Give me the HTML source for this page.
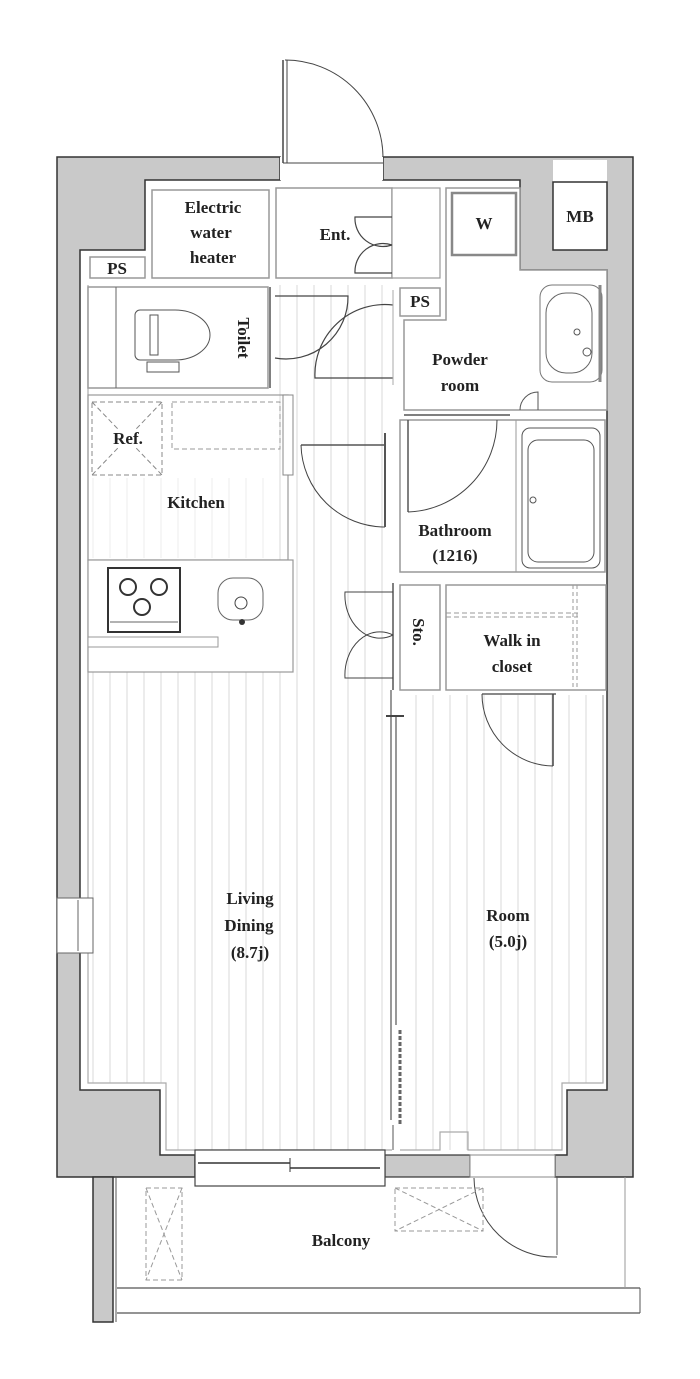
<!DOCTYPE html>
<html><head><meta charset="utf-8"><style>
html,body{margin:0;padding:0;background:#fff;}
svg{display:block;}
text{font-family:"Liberation Serif",serif;font-weight:bold;fill:#222;font-size:17px;text-anchor:middle;}
</style></head><body>
<svg width="700" height="1379" viewBox="0 0 700 1379" xmlns="http://www.w3.org/2000/svg">
<defs>
<pattern id="st" width="17" height="10" patternUnits="userSpaceOnUse">
<line x1="8" y1="0" x2="8" y2="10" stroke="#d9d9d9" stroke-width="1"/>
</pattern>
</defs>
<!-- outer wall gray -->
<path d="M57,157 H280 V180 H145 V250 H80 V1090 H160 V1155 H195 V1177 H57 Z" fill="#c9c9c9" stroke="#333" stroke-width="1.5"/>
<path d="M383,157 H633 V1177 H555 V1155 H567 V1090 H607 V270 H520 V180 H383 Z" fill="#c9c9c9" stroke="#333" stroke-width="1.5"/>
<rect x="385" y="1155" width="85" height="22" fill="#c9c9c9" stroke="#333" stroke-width="1.2"/>
<rect x="553" y="160" width="54" height="22" fill="#fff"/>
<rect x="553" y="182" width="54" height="68" fill="#fff" stroke="#333" stroke-width="1.5"/>
<text x="580" y="222" font-size="15">MB</text>
<!-- entrance door -->
<rect x="280" y="157" width="103" height="23" fill="#fff"/>
<line x1="283" y1="163" x2="383" y2="163" stroke="#444"/>
<line x1="283" y1="60" x2="283" y2="163" stroke="#444" stroke-width="1.5"/>
<line x1="287" y1="60" x2="287" y2="163" stroke="#444"/>
<path d="M285,60 A98,98 0 0 1 383,157" fill="none" stroke="#444"/>
<!-- striped floors -->
<rect x="275" y="285" width="120" height="390" fill="url(#st)"/>
<path d="M88,672 H392 V1150 H166 V1083 H88 Z" fill="url(#st)"/>
<path d="M400,695 H603 V1083 H562 V1150 H400 Z" fill="url(#st)"/>
<rect x="88" y="478" width="205" height="80" fill="url(#st)" opacity="0.5"/>
<!-- inner floor outline -->
<path d="M88,285 V1083 H166 V1150 H392" fill="none" stroke="#aaa" stroke-width="1.2"/>
<path d="M400,1150 H440 V1132 H468 V1150 H562 V1083 H603 V695" fill="none" stroke="#aaa" stroke-width="1.2"/>
<!-- rooms top -->
<rect x="90" y="257" width="55" height="21" fill="#fff" stroke="#999" stroke-width="1.5"/>
<text x="117" y="274" font-size="15">PS</text>
<rect x="152" y="190" width="117" height="88" fill="#fff" stroke="#999" stroke-width="1.5"/>
<text x="213" y="213">Electric</text><text x="211" y="238">water</text><text x="213" y="263">heater</text>
<rect x="276" y="188" width="116" height="90" fill="#fff" stroke="#999" stroke-width="1.5"/>
<text x="335" y="240">Ent.</text>
<rect x="392" y="188" width="48" height="90" fill="#fff" stroke="#999" stroke-width="1.2"/>
<path d="M392,217 H355 A28,28 0 0 0 392,245" fill="none" stroke="#444" stroke-width="1.2"/>
<path d="M392,245 A28,28 0 0 0 355,273 H392" fill="none" stroke="#444" stroke-width="1.2"/>
<!-- powder room -->
<path d="M446,188 H520 V270 H607 V410 H404 V320 H446 Z" fill="#fff" stroke="#999" stroke-width="1.5"/>
<rect x="452" y="193" width="64" height="62" fill="#fff" stroke="#888" stroke-width="2.5"/>
<text x="484" y="229" font-size="10" font-weight="normal">W</text>
<rect x="400" y="288" width="40" height="28" fill="#fff" stroke="#999" stroke-width="1.5"/>
<text x="420" y="307" font-size="15">PS</text>
<text x="460" y="365">Powder</text><text x="460" y="391">room</text>
<rect x="540" y="285" width="62" height="97" rx="12" fill="#fff" stroke="#777"/>
<rect x="546" y="293" width="46" height="80" rx="20" fill="#fff" stroke="#666"/>
<line x1="600" y1="285" x2="600" y2="382" stroke="#888" stroke-width="3"/>
<circle cx="577" cy="332" r="3" fill="none" stroke="#555"/>
<circle cx="587" cy="352" r="4" fill="none" stroke="#555"/>
<path d="M520,410 A18,18 0 0 1 538,392 V410" fill="none" stroke="#555"/>
<!-- toilet -->
<rect x="88" y="287" width="180" height="101" fill="#fff" stroke="#999" stroke-width="1.5"/>
<line x1="116" y1="287" x2="116" y2="388" stroke="#666"/>
<path d="M140,310 H175 A35,25 0 0 1 175,360 H140 A5,5 0 0 1 135,355 V315 A5,5 0 0 1 140,310Z" fill="#fff" stroke="#555"/>
<rect x="150" y="315" width="8" height="40" fill="none" stroke="#555"/>
<rect x="147" y="362" width="32" height="10" fill="none" stroke="#555"/>
<text x="238" y="338" transform="rotate(90 238 338)">Toilet</text>
<line x1="270" y1="287" x2="270" y2="388" stroke="#555" stroke-width="1.5"/>
<path d="M275,296 H348 A62,62 0 0 1 275,358" fill="none" stroke="#444" stroke-width="1.2"/>
<path d="M393,305 A70,70 0 0 0 315,378 H393" fill="none" stroke="#444" stroke-width="1.2"/>
<line x1="393" y1="290" x2="393" y2="385" stroke="#aaa"/>
<!-- kitchen -->
<rect x="88" y="395" width="200" height="165" fill="none" stroke="#999" stroke-width="1.2"/>
<rect x="283" y="395" width="10" height="80" fill="#fff" stroke="#888"/>
<rect x="92" y="402" width="70" height="73" fill="#fff" stroke="#888" stroke-dasharray="5,3"/>
<line x1="92" y1="402" x2="162" y2="475" stroke="#888" stroke-dasharray="5,3"/>
<line x1="162" y1="402" x2="92" y2="475" stroke="#888" stroke-dasharray="5,3"/>
<rect x="118" y="430" width="28" height="18" fill="#fff"/>
<text x="128" y="444" font-size="14" font-weight="normal">Ref.</text>
<rect x="172" y="402" width="108" height="47" fill="none" stroke="#999" stroke-dasharray="5,3"/>
<text x="196" y="508">Kitchen</text>
<!-- corridor door to living -->
<line x1="301" y1="445" x2="385" y2="445" stroke="#555" stroke-width="1.5"/>
<path d="M301,445 A84,84 0 0 0 385,527" fill="none" stroke="#444"/>
<line x1="385" y1="433" x2="385" y2="527" stroke="#555" stroke-width="2"/>
<!-- bathroom -->
<rect x="400" y="420" width="205" height="152" fill="#fff" stroke="#999" stroke-width="1.5"/>
<line x1="404" y1="415" x2="510" y2="415" stroke="#555" stroke-width="1.5"/>
<line x1="408" y1="420" x2="408" y2="512" stroke="#555" stroke-width="1.5"/>
<path d="M408,512 A92,92 0 0 0 497,420" fill="none" stroke="#444"/>
<line x1="516" y1="420" x2="516" y2="572" stroke="#999"/>
<rect x="522" y="428" width="78" height="140" rx="8" fill="#fff" stroke="#555"/>
<rect x="528" y="440" width="66" height="122" rx="10" fill="#fff" stroke="#555"/>
<circle cx="533" cy="500" r="3" fill="none" stroke="#555"/>
<text x="455" y="536">Bathroom</text><text x="455" y="561">(1216)</text>
<!-- kitchen counter -->
<rect x="88" y="560" width="205" height="112" fill="#fff" stroke="#999" stroke-width="1.2"/>
<rect x="108" y="568" width="72" height="64" fill="#fff" stroke="#333" stroke-width="2"/>
<line x1="110" y1="622" x2="178" y2="622" stroke="#666"/>
<circle cx="128" cy="587" r="8" fill="none" stroke="#333" stroke-width="2"/>
<circle cx="159" cy="587" r="8" fill="none" stroke="#333" stroke-width="2"/>
<circle cx="142" cy="607" r="8" fill="none" stroke="#333" stroke-width="2"/>
<rect x="218" y="578" width="45" height="42" rx="15" fill="#fff" stroke="#666"/>
<circle cx="241" cy="603" r="6" fill="none" stroke="#444"/>
<circle cx="242" cy="622" r="3" fill="#333"/>
<rect x="88" y="637" width="130" height="10" fill="#fff" stroke="#999"/>
<!-- sto -->
<rect x="400" y="585" width="40" height="105" fill="#fff" stroke="#999" stroke-width="1.5"/>
<text x="413" y="632" transform="rotate(90 413 632)">Sto.</text>
<line x1="393" y1="583" x2="393" y2="690" stroke="#555" stroke-width="1.5"/>
<path d="M393,592 H345 A35,43 0 0 0 393,635" fill="none" stroke="#444"/>
<path d="M393,635 A35,43 0 0 0 345,678 H393" fill="none" stroke="#444"/>
<rect x="446" y="585" width="160" height="105" fill="#fff" stroke="#999" stroke-width="1.5"/>
<line x1="446" y1="613" x2="578" y2="613" stroke="#999" stroke-dasharray="5,3"/>
<line x1="446" y1="617" x2="578" y2="617" stroke="#999" stroke-dasharray="5,3"/>
<line x1="573" y1="585" x2="573" y2="690" stroke="#999" stroke-dasharray="4,3"/>
<line x1="577" y1="585" x2="577" y2="690" stroke="#999" stroke-dasharray="4,3"/>
<text x="512" y="646">Walk in</text><text x="512" y="672">closet</text>
<!-- room door -->
<line x1="482" y1="694" x2="556" y2="694" stroke="#888" stroke-width="2"/>
<line x1="553" y1="694" x2="553" y2="766" stroke="#444" stroke-width="1.5"/>
<path d="M482,694 A72,72 0 0 0 553,766" fill="none" stroke="#444"/>
<!-- partition sliding -->
<line x1="391" y1="690" x2="391" y2="1120" stroke="#555" stroke-width="1.2"/>
<line x1="396" y1="715" x2="396" y2="1025" stroke="#555" stroke-width="1.2"/>
<line x1="386" y1="716" x2="404" y2="716" stroke="#444" stroke-width="2"/>
<line x1="400" y1="1030" x2="400" y2="1125" stroke="#666" stroke-width="3" stroke-dasharray="4,2"/>
<line x1="393" y1="1125" x2="393" y2="1150" stroke="#555"/>
<!-- left window -->
<rect x="57" y="898" width="36" height="55" fill="#fff" stroke="#666"/>
<line x1="78" y1="900" x2="78" y2="951" stroke="#666"/>
<!-- labels -->
<text x="250" y="904">Living</text><text x="249" y="931">Dining</text><text x="250" y="958">(8.7j)</text>
<text x="508" y="921">Room</text><text x="508" y="947">(5.0j)</text>
<!-- bottom window -->
<rect x="195" y="1150" width="190" height="36" fill="#fff" stroke="#444" stroke-width="1.2"/>
<line x1="198" y1="1163" x2="290" y2="1163" stroke="#333" stroke-width="1.5"/>
<line x1="290" y1="1168" x2="380" y2="1168" stroke="#333" stroke-width="1.5"/>
<line x1="290" y1="1158" x2="290" y2="1172" stroke="#333"/>
<rect x="470" y="1155" width="85" height="22" fill="#fff" stroke="#888"/>
<!-- balcony -->
<rect x="93" y="1177" width="20" height="145" fill="#c9c9c9" stroke="#333" stroke-width="1.5"/>
<line x1="116" y1="1177" x2="116" y2="1322" stroke="#555"/>
<line x1="117" y1="1288" x2="640" y2="1288" stroke="#555" stroke-width="1.2"/>
<line x1="117" y1="1313" x2="640" y2="1313" stroke="#555" stroke-width="1.2"/>
<line x1="640" y1="1288" x2="640" y2="1313" stroke="#555"/>
<line x1="625" y1="1177" x2="625" y2="1288" stroke="#999"/>
<line x1="557" y1="1177" x2="557" y2="1255" stroke="#555"/>
<path d="M474,1178 A80,80 0 0 0 557,1257" fill="none" stroke="#444"/>
<rect x="146" y="1188" width="36" height="92" fill="none" stroke="#999" stroke-dasharray="5,3"/>
<line x1="146" y1="1188" x2="182" y2="1280" stroke="#999" stroke-dasharray="5,3"/>
<line x1="182" y1="1188" x2="146" y2="1280" stroke="#999" stroke-dasharray="5,3"/>
<rect x="395" y="1188" width="88" height="43" fill="none" stroke="#999" stroke-dasharray="5,3"/>
<line x1="395" y1="1188" x2="483" y2="1231" stroke="#999" stroke-dasharray="5,3"/>
<line x1="483" y1="1188" x2="395" y2="1231" stroke="#999" stroke-dasharray="5,3"/>
<text x="341" y="1246">Balcony</text>
</svg>
</body></html>
